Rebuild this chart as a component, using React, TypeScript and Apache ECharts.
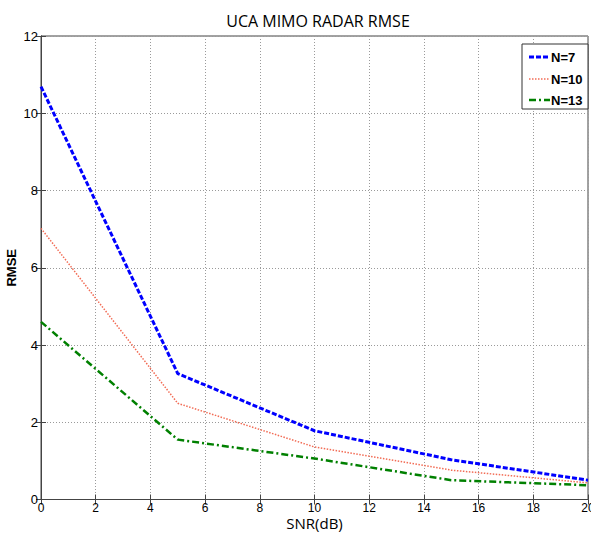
import React, { useEffect, useRef } from "react";
import * as echarts from "echarts";

const snr = [0, 5, 10, 15, 20];
const n7 = [10.69, 3.26, 1.78, 1.03, 0.5];
const n10 = [7.02, 2.49, 1.36, 0.76, 0.43];
const n13 = [4.6, 1.55, 1.06, 0.5, 0.37];
const seriesNames = ["N=7", "N=10", "N=13"];

const font = "Liberation Sans, Arial, sans-serif";
const colors = ["#0000ff", "#f26c55", "#008000"];
const widths = [3, 1.5, 2.5];
const dashes: number[][] = [[5, 2], [1.5, 1.5], [7, 3, 2, 3]];

export default function App() {
  const ref = useRef<HTMLDivElement>(null);
  useEffect(() => {
    if (!ref.current) return;
    const chart = echarts.init(ref.current, undefined, { renderer: "svg" });
    const pair = (ys: number[]) => snr.map((x, i) => [x, ys[i]]);
    const gridLine = { show: true, lineStyle: { color: "#9a9a9a", type: [1, 2] as any, width: 1 } };
    const axisCommon = {
      axisLine: { show: true, lineStyle: { color: "#444" } },
      axisTick: { show: true, inside: true, length: 5, lineStyle: { color: "#444" } },
    };
    const legendTop = 44;
    const legendLeft = 522;
    const rowYs = [57, 79, 100];
    const legendGraphics: any[] = [
      {
        type: "rect",
        shape: { x: legendLeft, y: legendTop, width: 66, height: 65 },
        style: { fill: "#fff", stroke: "#333", lineWidth: 1 },
        z: 100,
      },
    ];
    seriesNames.forEach((nm, i) => {
      legendGraphics.push({
        type: "line",
        shape: { x1: legendLeft + 7, y1: rowYs[i], x2: legendLeft + 28, y2: rowYs[i] },
        style: { stroke: colors[i], lineWidth: widths[i], lineDash: dashes[i] },
        z: 101,
      });
      legendGraphics.push({
        type: "text",
        x: legendLeft + 29,
        y: rowYs[i],
        style: {
          text: nm,
          fill: "#000",
          font: `bold 13px ${font}`,
          verticalAlign: "middle",
          align: "left",
        },
        z: 101,
      });
    });
    const series = [n7, n10, n13].map((vals, i) => ({
      name: seriesNames[i],
      type: "line",
      data: pair(vals),
      symbol: "none",
      color: colors[i],
      lineStyle: { color: colors[i], width: widths[i], type: dashes[i] },
    }));
    chart.setOption({
      animation: false,
      backgroundColor: "#ffffff",
      title: {
        text: "UCA MIMO RADAR RMSE",
        left: 313,
        textAlign: "center",
        top: 8,
        textStyle: { fontFamily: "Open Sans, sans-serif", fontSize: 16, fontWeight: "normal", color: "#000" },
      },
      grid: {
        left: 41,
        right: 3,
        top: 36,
        bottom: 33.5,
        show: true,
        borderColor: "#444",
        borderWidth: 1,
        containLabel: false,
        outerBoundsMode: "none",
      },
      xAxis: [
        {
          type: "value",
          min: 0,
          max: 20,
          interval: 2,
          name: "SNR(dB)",
          nameLocation: "middle",
          nameGap: 23,
          nameMoveOverlap: false,
          nameTextStyle: {
            fontFamily: "Open Sans, sans-serif",
            fontSize: 15,
            lineHeight: 15,
            color: "#000",
            verticalAlign: "middle",
          },
          ...axisCommon,
          axisLabel: { fontFamily: font, fontSize: 12, lineHeight: 12, color: "#000", margin: 2 },
          splitLine: gridLine,
        },
        {
          type: "value",
          min: 0,
          max: 20,
          interval: 2,
          position: "top",
          ...axisCommon,
          axisLabel: { show: false },
          splitLine: { show: false },
        },
      ],
      yAxis: [
        {
          type: "value",
          min: 0,
          max: 12,
          interval: 2,
          name: "RMSE",
          nameLocation: "middle",
          nameGap: 23,
          nameMoveOverlap: false,
          nameTextStyle: { fontFamily: font, fontSize: 13, fontWeight: "bold", color: "#000" },
          ...axisCommon,
          axisLabel: { fontFamily: font, fontSize: 13, color: "#000", margin: 3 },
          splitLine: gridLine,
        },
        {
          type: "value",
          min: 0,
          max: 12,
          interval: 2,
          position: "right",
          ...axisCommon,
          axisLabel: { show: false },
          splitLine: { show: false },
        },
      ],
      series,
      graphic: legendGraphics,
    });
    return () => chart.dispose();
  }, []);
  return <div ref={ref} style={{ width: 591, height: 533, position: "absolute", left: 0, top: 0 }} />;
}
